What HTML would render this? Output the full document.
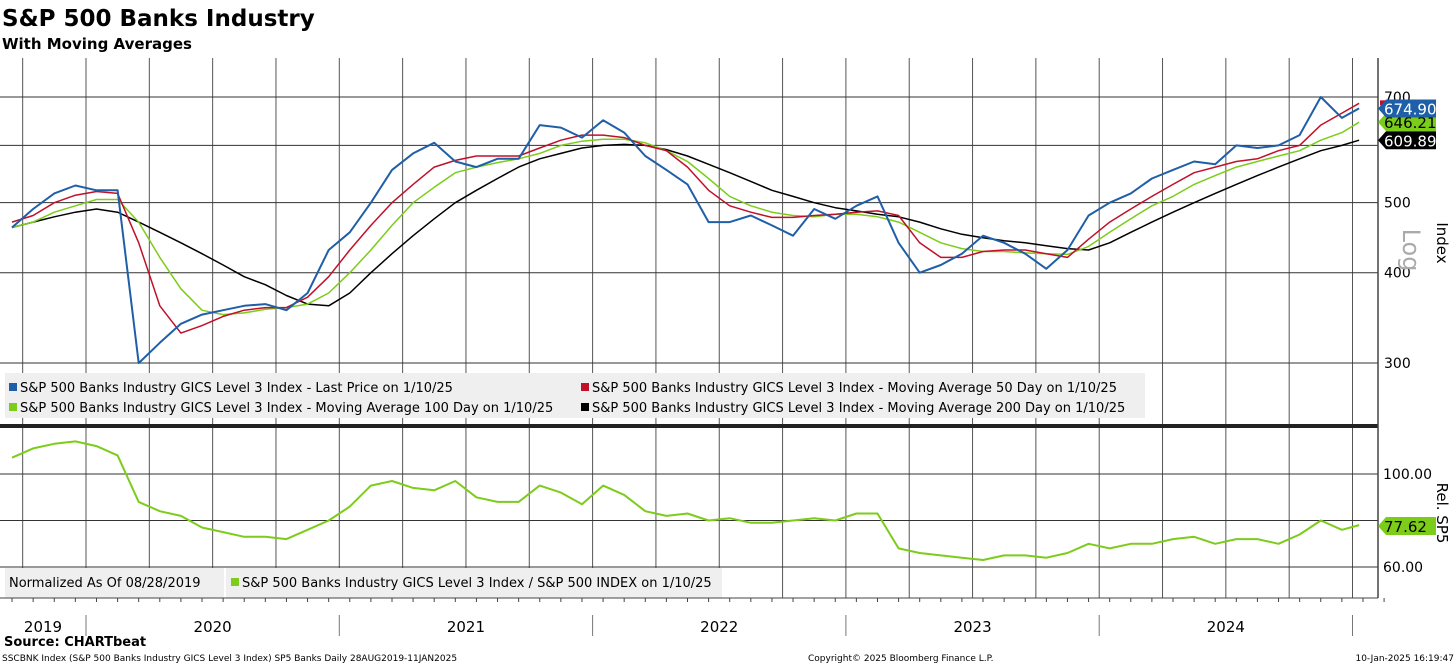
<!DOCTYPE html>
<html><head><meta charset="utf-8">
<style>
body{margin:0;background:#fff;width:1456px;height:665px;overflow:hidden;font-family:"DejaVu Sans","Liberation Sans",sans-serif;}
svg text{font-family:"DejaVu Sans","Liberation Sans",sans-serif;}
</style></head>
<body>
<svg id="c" width="1456" height="665" xmlns="http://www.w3.org/2000/svg">
<text x="2" y="26" font-size="23" font-weight="bold">S&amp;P 500 Banks Industry</text>
<text x="2" y="49" font-size="15" font-weight="bold">With Moving Averages</text>
<g id="grid"></g>
<g id="series"></g>
<g id="legend-upper">
<rect x="5" y="373" width="1140" height="45" fill="#efefef"/>
<rect x="9" y="383" width="8" height="8" fill="#1f5fa8"/>
<text x="20" y="392" font-size="13">S&amp;P 500 Banks Industry GICS Level 3 Index - Last Price on 1/10/25</text>
<rect x="581" y="383" width="8" height="8" fill="#c0102a"/>
<text x="592" y="392" font-size="13">S&amp;P 500 Banks Industry GICS Level 3 Index - Moving Average 50 Day on 1/10/25</text>
<rect x="9" y="403" width="8" height="8" fill="#7ccc1a"/>
<text x="20" y="412" font-size="13">S&amp;P 500 Banks Industry GICS Level 3 Index - Moving Average 100 Day on 1/10/25</text>
<rect x="581" y="403" width="8" height="8" fill="#000"/>
<text x="592" y="412" font-size="13">S&amp;P 500 Banks Industry GICS Level 3 Index - Moving Average 200 Day on 1/10/25</text>
</g>
<g>
<rect x="5" y="568" width="717" height="30" fill="#efefef"/>
<text x="9" y="587" font-size="13">Normalized As Of 08/28/2019</text>
<line x1="225" y1="568" x2="225" y2="598" stroke="#fff" stroke-width="2"/>
<rect x="231" y="578" width="8" height="8" fill="#7ccc1a"/>
<text x="242" y="587" font-size="13">S&amp;P 500 Banks Industry GICS Level 3 Index / S&amp;P 500 INDEX on 1/10/25</text>
</g>
<g id="axes"></g>
<text x="1403" y="250" font-size="24" fill="#aaa" transform="rotate(90 1403 250)" text-anchor="middle">Log</text>
<text x="1437" y="243" font-size="15" transform="rotate(90 1437 243)" text-anchor="middle">Index</text>
<text x="1437" y="513" font-size="15" transform="rotate(90 1437 513)" text-anchor="middle">Rel. SP5</text>
<text x="4" y="646" font-size="13" font-weight="bold">Source: CHARTbeat</text>
<text x="2" y="661" font-size="9">SSCBNK Index (S&amp;P 500 Banks Industry GICS Level 3 Index) SP5 Banks  Daily 28AUG2019-11JAN2025</text>
<text x="808" y="661" font-size="9">Copyright© 2025 Bloomberg Finance L.P.</text>
<text x="1454" y="661" font-size="9" text-anchor="end">10-Jan-2025 16:19:47</text>
</svg>
<script>
// monthly observations starting 2019-09 (index 0) through 2025-01-10
const startYear = 2019.708;
const price = [462,490,515,528,520,520,300,320,340,350,355,360,362,355,375,430,455,500,555,585,605,570,560,575,575,640,635,615,650,625,580,555,530,470,470,480,465,450,490,475,495,510,440,400,410,425,450,440,425,405,430,480,500,515,540,555,570,565,600,595,600,620,700,655,675];
const ma50 = [470,480,500,512,518,515,440,360,330,338,348,355,358,358,370,395,430,465,500,530,560,572,580,580,580,595,610,620,620,615,600,590,560,520,495,485,477,477,480,482,485,487,480,440,420,420,428,430,430,425,420,445,470,490,510,530,550,560,570,575,590,600,640,665,686];
const ma100 = [462,470,485,495,505,505,470,420,380,355,350,352,356,358,362,375,400,430,465,500,525,550,560,568,575,585,600,608,612,612,605,590,570,540,510,495,485,480,478,482,482,478,470,455,440,432,428,428,426,425,424,435,455,475,495,510,530,545,560,570,580,590,610,625,646];
const ma200 = [462,470,478,485,490,485,470,455,440,425,410,395,385,372,362,360,375,400,425,450,475,500,520,540,560,575,585,595,600,602,600,592,580,565,550,535,520,510,500,492,487,482,478,470,460,452,447,443,440,436,432,430,440,455,470,485,500,515,530,545,560,575,590,600,610];
const rel = [107,111,113,114,112,108,88,84,82,77,75,73,73,72,76,80,86,95,97,94,93,97,90,88,88,95,92,87,95,91,84,82,83,80,81,79,79,80,81,80,83,83,68,66,65,64,63,65,65,64,66,70,68,70,70,72,73,70,72,72,70,74,80,76,78];
const upperTicks = [300,400,500,600,700];
const upperTickLabels = ["300","400","500","","700"];
const lowerTicks = [60,80,100];
const lowerTickLabels = ["60.00","","100.00"];
const years = ["2019","2020","2021","2022","2023","2024"];

const NS="http://www.w3.org/2000/svg";
function mk(tag,attrs,parent,text){const e=document.createElementNS(NS,tag);for(const k in attrs)e.setAttribute(k,attrs[k]);if(text!==undefined)e.textContent=text;parent.appendChild(e);return e;}
function tOf(i){return i===price.length-1 ? 2025.026 : startYear+i/12;}
function X(t){return 86+(t-2020)*253.3;}
function YU(v){return 97-Math.log(v/700)*314;}
function YL(v){return 474-(v-100)*2.325;}
const grid=document.getElementById('grid'), ser=document.getElementById('series'), ax=document.getElementById('axes');

for(let q=-1;q<21;q++){
  const x=X(2020+q/4);
  if(x<0||x>1378)continue;
  const l=mk('line',{x1:x,y1:58,x2:x,y2:598,stroke:'#555','stroke-width':1},grid);
  
  
}
upperTicks.forEach((v,i)=>{
  const y=YU(v);
  const l=mk('line',{x1:0,y1:y,x2:1378,y2:y,stroke:'#333','stroke-width':1},grid);
  
  
  if(upperTickLabels[i]){const t=mk('text',{x:1384,y:y+5,'font-size':14},ax,upperTickLabels[i]);
  
  }
});
lowerTicks.forEach((v,i)=>{
  const y=YL(v);
  const l=mk('line',{x1:0,y1:y,x2:1378,y2:y,stroke:'#333','stroke-width':1},grid);
  
  
  if(lowerTickLabels[i]){const t=mk('text',{x:1383,y:y+5,'font-size':14},ax,lowerTickLabels[i]);
  
  }
});
mk('rect',{x:0,y:424,width:1378,height:4,fill:'#222'},grid);
mk('line',{x1:1378,y1:58,x2:1378,y2:598,stroke:'#444','stroke-width':1.5},ax);
mk('line',{x1:0,y1:598,x2:1378,y2:598,stroke:'#444','stroke-width':1},ax);
for(let m=0;m<66;m++){const x=X(startYear+m/12);mk('line',{x1:x,y1:598,x2:x,y2:602,stroke:'#444'},ax);}
[2020,2021,2022,2023,2024,2025].forEach(y=>{const x=X(y);mk('line',{x1:x,y1:615,x2:x,y2:636,stroke:'#777'},ax);});
years.forEach((yr,i)=>{
  const y0=Math.max(X(2019+i),0), y1=Math.min(X(2020+i),1353);
  const t=mk('text',{x:(y0+y1)/2,y:632,'font-size':15,'text-anchor':'middle'},ax,yr);
  
  
});
function line(arr,Y,color,w,name){
  const d=arr.map((v,i)=>(i?'L':'M')+X(tOf(i)).toFixed(1)+','+Y(v).toFixed(1)).join('');
  const p=mk('path',{d:d,fill:'none',stroke:color,'stroke-width':w,'stroke-linejoin':'round'},ser);
  
  
}
line(ma200,YU,'#000',1.5,'ma200-line');
line(ma100,YU,'#7ccc1a',1.5,'ma100-line');
line(ma50,YU,'#c0102a',1.5,'ma50-line');
line(price,YU,'#1f5fa8',2,'price-line');
line(rel,YL,'#7ccc1a',2,'relative-line');
function tag(v,Y,bg,fg,name){
  const y=Y(v);
  const g=mk('g',{},ax);
  
  
  mk('path',{d:`M1378,${y} L1386,${y-9} L1436,${y-9} L1436,${y+9} L1386,${y+9} Z`,fill:bg},g);
  mk('text',{x:1384,y:y+6,'font-size':15,fill:fg},g,v.toFixed(2));
}
mk('rect',{x:1380,y:YU(ma50[ma50.length-1])-3,width:56,height:5,fill:'#c0102a'},ax);
tag(ma200[ma200.length-1]-0.11,YU,'#000','#fff','ma200-value-tag');
tag(ma100[ma100.length-1]+0.21,YU,'#7ccc1a','#000','ma100-value-tag');
tag(price[price.length-1]-0.1,YU,'#1f5fa8','#fff','price-value-tag');
tag(rel[rel.length-1]-0.38,YL,'#7ccc1a','#000','relative-value-tag');
</script>
</body></html>
